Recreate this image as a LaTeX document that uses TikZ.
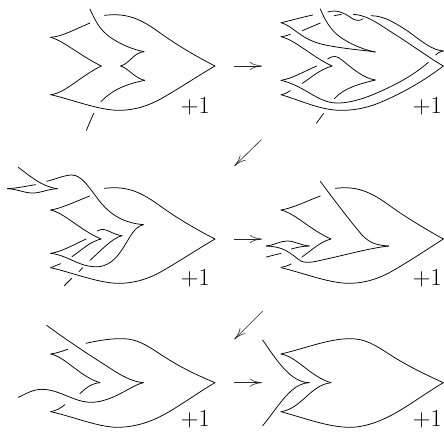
\documentclass[tikz,border=0pt]{standalone}
\usetikzlibrary{arrows.meta}
\tikzset{
  strand/.style={line width=0.75pt,line cap=round,black},
  move/.style={line width=0.6pt,black!85,-{Computer Modern Rightarrow[length=12pt,width=8pt]}},
  framing/.style={inner sep=0pt,font=\LARGE,scale=1.42}
}
\newcommand{\lobe}{%
  \draw[strand] (313,46) .. controls (370,40) and (410,48) .. (475,95) .. controls (530,135) and (590,170) .. (645,198);
  \draw[strand] (645,198) .. controls (590,230) and (530,270) .. (480,298) .. controls (430,325) and (385,332) .. (350,331) .. controls (290,328) and (220,300) .. (152,284);
}
\begin{document}
\begin{tikzpicture}[x=0.33333pt,y=-0.33333pt]
\useasboundingbox (0,0) rectangle (1332,1293);
% panel 1
\begin{scope}
\lobe
\draw[strand] (270,27) .. controls (290,75) and (310,100) .. (340,118) .. controls (370,137) and (405,150) .. (432,155);
\draw[strand] (432,155) .. controls (400,158) and (390,190) .. (362,198);
\draw[strand] (362,198) .. controls (385,205) and (405,235) .. (434,241);
\draw[strand] (434,241) .. controls (390,250) and (340,265) .. (303,305);
\draw[strand] (152,284) .. controls (195,280) and (245,226) .. (304,198);
\draw[strand] (304,198) .. controls (245,170) and (190,122) .. (152,112);
\draw[strand] (152,112) .. controls (185,110) and (225,88) .. (270,69);
\draw[strand] (281,340) -- (259,391);
\node[framing] (a) at (586,318) {$+1$};
\end{scope}
% panel 2
\begin{scope}[shift={(666,0)}]
\coordinate (m1s) at (36,198); \coordinate (m1e) at (120,198);
\draw[strand] (177,68) .. controls (205,62) and (240,52) .. (272,45);
\draw[strand] (177,68) .. controls (215,78) and (235,120) .. (310,135) .. controls (370,147) and (420,150) .. (460,156);
\draw[strand] (295,27) .. controls (315,75) and (335,100) .. (365,118) .. controls (395,137) and (430,150) .. (460,156);
\draw[strand] (241,92) -- (295,69);
\draw[strand] (317,36) .. controls (345,28) and (365,38) .. (385,52) .. controls (400,63) and (412,64) .. (423,56);
\draw[strand] (337,47) -- (358,43);
\draw[strand] (394,43) .. controls (440,45) and (480,80) .. (530,110) .. controls (590,150) and (640,185) .. (664,198);
\draw[strand] (447,47) .. controls (490,48) and (520,70) .. (560,95) .. controls (600,125) and (630,150) .. (664,153);
\draw[strand] (641,165) .. controls (645,158) and (655,155) .. (664,153);
\draw[strand] (619,187) .. controls (570,230) and (510,260) .. (450,285) .. controls (400,305) and (360,312) .. (330,308) .. controls (280,300) and (240,255) .. (177,241);
\draw[strand] (664,198) .. controls (610,240) and (540,280) .. (480,305) .. controls (430,327) and (385,332) .. (350,331) .. controls (290,328) and (240,303) .. (177,284);
\draw[strand] (177,284) .. controls (190,282) and (195,278) .. (205,272);
\draw[strand] (177,110) .. controls (185,109) and (195,107) .. (205,103);
\draw[strand] (177,110) .. controls (220,120) and (270,170) .. (330,198);
\draw[strand] (330,198) .. controls (290,210) and (265,235) .. (241,250);
\draw[strand] (177,241) .. controls (210,236) and (245,215) .. (284,198);
\draw[strand] (317,177) .. controls (335,165) and (345,168) .. (360,180) .. controls (390,205) and (425,235) .. (460,240);
\draw[strand] (460,240) .. controls (410,252) and (365,265) .. (337,296);
\draw[strand] (305,340) -- (283,370);
\node[framing] (b) at (616,318) {$+1$};
\end{scope}
% panel 3
\begin{scope}[shift={(0,420)}]
\begin{scope}[shift={(0,99)}]\lobe\end{scope}
\draw[strand] (55,82) .. controls (90,108) and (125,140) .. (172,146);
\draw[strand] (172,146) .. controls (140,148) and (120,160) .. (95,159) .. controls (70,158) and (50,147) .. (22,146);
\draw[strand] (22,146) .. controls (50,145) and (80,138) .. (107,134);
\draw[strand] (140,124) .. controls (165,118) and (195,105) .. (215,105) .. controls (245,105) and (265,140) .. (300,185) .. controls (340,235) and (385,250) .. (430,254);
\draw[strand] (430,254) .. controls (395,262) and (385,310) .. (350,350) .. controls (325,378) and (300,382) .. (280,380) .. controls (235,378) and (200,345) .. (152,340);
\draw[strand] (152,340) .. controls (185,335) and (220,315) .. (258,297);
\draw[strand] (152,210) .. controls (185,205) and (225,185) .. (269,168);
\draw[strand] (152,210) .. controls (195,220) and (240,270) .. (303,297);
\draw[strand] (303,297) .. controls (270,305) and (245,330) .. (216,350);
\draw[strand] (292,273) .. controls (305,265) and (315,268) .. (330,275) .. controls (342,281) and (355,286) .. (366,287);
\draw[strand] (366,287) .. controls (335,295) and (305,330) .. (270,361);
\draw[strand] (152,383) -- (182,371);
\draw[strand] (248,383) -- (237,395);
\draw[strand] (215,415) -- (193,437);
\node[framing] (c) at (586,416) {$+1$};
\end{scope}
% panel 4
\begin{scope}[shift={(666,420)}]
\coordinate (d1s) at (118,-1); \coordinate (d1e) at (37,78);
\coordinate (m2s) at (36,297); \coordinate (m2e) at (120,297);
\begin{scope}[shift={(24,99)}]
\draw[strand] (316,46) .. controls (370,40) and (410,48) .. (475,95) .. controls (530,135) and (590,170) .. (640,198);
\draw[strand] (640,198) .. controls (590,230) and (530,270) .. (480,298) .. controls (430,325) and (385,332) .. (350,331) .. controls (290,328) and (220,300) .. (153,284);
\end{scope}
\draw[strand] (295,124) .. controls (340,185) and (390,250) .. (420,285) .. controls (445,312) and (470,316) .. (500,318);
\draw[strand] (500,318) .. controls (440,325) and (370,345) .. (300,360) .. controls (260,370) and (240,370) .. (225,355) .. controls (195,330) and (175,320) .. (133,318);
\draw[strand] (133,318) .. controls (155,316) and (175,303) .. (195,303) .. controls (220,303) and (235,316) .. (262,318);
\draw[strand] (262,318) .. controls (245,318) and (225,322) .. (208,327);
\draw[strand] (133,351) -- (177,340);
\draw[strand] (177,382) .. controls (190,380) and (195,378) .. (207,372);
\draw[strand] (177,210) .. controls (210,205) and (250,185) .. (295,168);
\draw[strand] (177,210) .. controls (220,220) and (265,270) .. (327,297);
\draw[strand] (327,297) .. controls (295,305) and (270,330) .. (240,351);
\node[framing] (d) at (616,416) {$+1$};
\end{scope}
% panel 5
\begin{scope}[shift={(0,870)}]
\draw[strand] (140,106) .. controls (200,150) and (260,190) .. (320,228) .. controls (360,255) and (395,275) .. (430,278);
\draw[strand] (430,278) .. controls (395,285) and (340,335) .. (275,337) .. controls (220,337) and (180,298) .. (125,298) .. controls (100,298) and (80,310) .. (55,322);
\draw[strand] (258,160) .. controls (300,150) and (340,145) .. (370,146) .. controls (410,147) and (440,165) .. (480,192) .. controls (540,232) and (590,255) .. (645,278);
\draw[strand] (645,278) .. controls (590,310) and (530,355) .. (480,380) .. controls (430,405) and (385,412) .. (350,412) .. controls (290,410) and (220,380) .. (152,365);
\draw[strand] (152,365) .. controls (170,362) and (180,355) .. (195,344);
\draw[strand] (152,192) .. controls (168,190) and (185,184) .. (203,178);
\draw[strand] (152,192) .. controls (195,200) and (240,260) .. (300,278);
\draw[strand] (300,278) .. controls (275,280) and (255,295) .. (240,311);
\node[framing] (e) at (586,388) {$+1$};
\end{scope}
% panel 6
\begin{scope}[shift={(666,870)}]
\coordinate (d2s) at (122,63); \coordinate (d2e) at (37,148);
\coordinate (m3s) at (36,278); \coordinate (m3e) at (120,278);
\draw[strand] (122,150) .. controls (160,205) and (205,278) .. (262,278);
\draw[strand] (262,278) .. controls (205,280) and (170,350) .. (122,407);
\draw[strand] (177,192) .. controls (250,175) and (320,146) .. (385,146) .. controls (430,146) and (460,165) .. (510,198) .. controls (570,235) and (620,258) .. (664,278);
\draw[strand] (664,278) .. controls (610,310) and (550,355) .. (500,380) .. controls (450,405) and (410,412) .. (385,412) .. controls (320,412) and (250,385) .. (177,365);
\draw[strand] (177,192) .. controls (225,200) and (265,260) .. (327,278);
\draw[strand] (327,278) .. controls (265,285) and (240,355) .. (177,365);
\node[framing] (f) at (616,388) {$+1$};
\end{scope}
\draw[move] (m1s) -- (m1e);
\draw[move] (d1s) -- (d1e);
\draw[move] (m2s) -- (m2e);
\draw[move] (d2s) -- (d2e);
\draw[move] (m3s) -- (m3e);
\end{tikzpicture}
\end{document}
